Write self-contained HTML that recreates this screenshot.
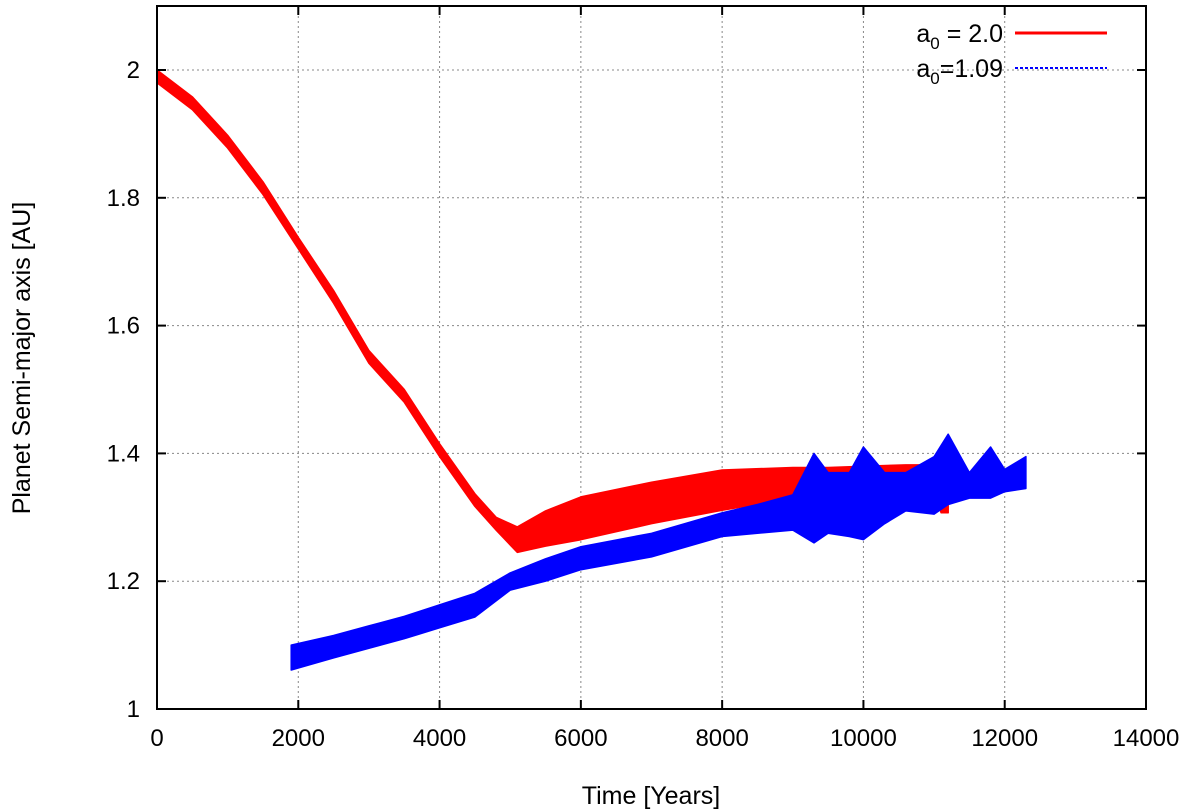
<!DOCTYPE html>
<html><head><meta charset="utf-8"><style>
html,body{margin:0;padding:0;background:#fff;}
svg{display:block;font-family:"Liberation Sans",sans-serif;}
</style></head><body>
<svg id="chart" width="1200" height="812">
<g id="grid"></g>
<g id="series"></g>
<rect x="157" y="6" width="989" height="703" fill="none" stroke="#000" stroke-width="2"/>
<g id="ticks"></g>
<text x="0" y="0" transform="translate(30,358) rotate(-90)" text-anchor="middle" font-size="25">Planet Semi-major axis [AU]</text>
<text x="651" y="804" text-anchor="middle" font-size="25">Time [Years]</text>
<g>
<text x="1003" y="42" text-anchor="end" font-size="25">a<tspan font-size="17" dy="7">0</tspan><tspan dy="-7"> = 2.0</tspan></text>
<line x1="1015" y1="33" x2="1107" y2="33" stroke="#f00" stroke-width="3"/>
<text x="1003" y="77" text-anchor="end" font-size="25">a<tspan font-size="17" dy="7">0</tspan><tspan dy="-7">=1.09</tspan></text>
<line x1="1015" y1="68" x2="1107" y2="68" stroke="#00f" stroke-width="2" stroke-dasharray="3,2"/>
</g>
</svg>
<script>
const xTicks=[0,2000,4000,6000,8000,10000,12000,14000];
const yTicks=[1,1.2,1.4,1.6,1.8,2];
const yTickLabels=["1","1.2","1.4","1.6","1.8","2"];
const redT=[0,500,1000,1500,2000,2500,3000,3500,4000,4500,4800,5100,5500,6000,7000,8000,9000,9500,10000,10600,11000,11100,11200];
const redLow=[1.98,1.938,1.878,1.805,1.72,1.635,1.541,1.48,1.395,1.317,1.28,1.245,1.255,1.265,1.29,1.311,1.33,1.338,1.34,1.345,1.34,1.307,1.307];
const redHigh=[2.0,1.958,1.898,1.825,1.738,1.655,1.561,1.50,1.415,1.337,1.30,1.285,1.31,1.332,1.355,1.374,1.378,1.378,1.38,1.382,1.382,1.375,1.37];
const blueT=[1900,2500,3000,3500,4000,4500,5000,5500,6000,7000,8000,8500,9000,9300,9500,9800,10000,10300,10600,11000,11200,11500,11800,12000,12300];
const blueLow=[1.061,1.08,1.095,1.11,1.127,1.144,1.186,1.20,1.218,1.238,1.27,1.275,1.28,1.26,1.275,1.27,1.265,1.29,1.31,1.305,1.32,1.33,1.33,1.34,1.345];
const blueHigh=[1.10,1.115,1.13,1.145,1.163,1.181,1.213,1.235,1.254,1.275,1.307,1.32,1.335,1.40,1.37,1.37,1.41,1.37,1.37,1.395,1.43,1.37,1.41,1.375,1.395];
const X=v=>157+v*(989/14000);
const Y=v=>709-(v-1)*639;
const NS="http://www.w3.org/2000/svg";
const grid=document.getElementById('grid'),ticks=document.getElementById('ticks'),series=document.getElementById('series');
function mk(tag,attrs,parent){const e=document.createElementNS(NS,tag);for(const k in attrs)e.setAttribute(k,attrs[k]);parent.appendChild(e);return e;}
xTicks.forEach((t,i)=>{
  if(i>0&&i<xTicks.length-1){const g=mk('line',{x1:X(t),y1:6,x2:X(t),y2:709,stroke:'#888','stroke-dasharray':'2,3'},grid);
  
  }
  const a=mk('line',{x1:X(t),y1:709,x2:X(t),y2:700,stroke:'#000','stroke-width':2},ticks);
  
  
  const b=mk('line',{x1:X(t),y1:6,x2:X(t),y2:15,stroke:'#000','stroke-width':2},ticks);
  
  
  const l=mk('text',{x:X(t),y:746,'text-anchor':'middle','font-size':24},ticks);l.textContent=t;
  
  
});
yTicks.forEach((v,i)=>{
  if(i>0){const g=mk('line',{x1:157,y1:Y(v),x2:1146,y2:Y(v),stroke:'#888','stroke-dasharray':'2,3'},grid);
  
  }
  const a=mk('line',{x1:157,y1:Y(v),x2:166,y2:Y(v),stroke:'#000','stroke-width':2},ticks);
  
  
  const b=mk('line',{x1:1137,y1:Y(v),x2:1146,y2:Y(v),stroke:'#000','stroke-width':2},ticks);
  
  
  const l=mk('text',{x:140,y:Y(v)+8,'text-anchor':'end','font-size':24},ticks);l.textContent=yTickLabels[i];
  
  
});
function band(T,lo,hi,color,name){
  let d='M'+T.map((t,i)=>X(t).toFixed(1)+','+Y(hi[i]).toFixed(1)).join(' L');
  d+=' L'+T.map((t,i)=>[t,i]).reverse().map(([t,i])=>X(t).toFixed(1)+','+Y(lo[i]).toFixed(1)).join(' L')+' Z';
  const p=mk('path',{d:d,fill:color,stroke:color,'stroke-width':1.5,'stroke-linejoin':'round'},series);
  
  
}
band(redT,redLow,redHigh,'#f00','series-a0-2.0');
band(blueT,blueLow,blueHigh,'#00f','series-a0-1.09');
</script>
</body></html>
